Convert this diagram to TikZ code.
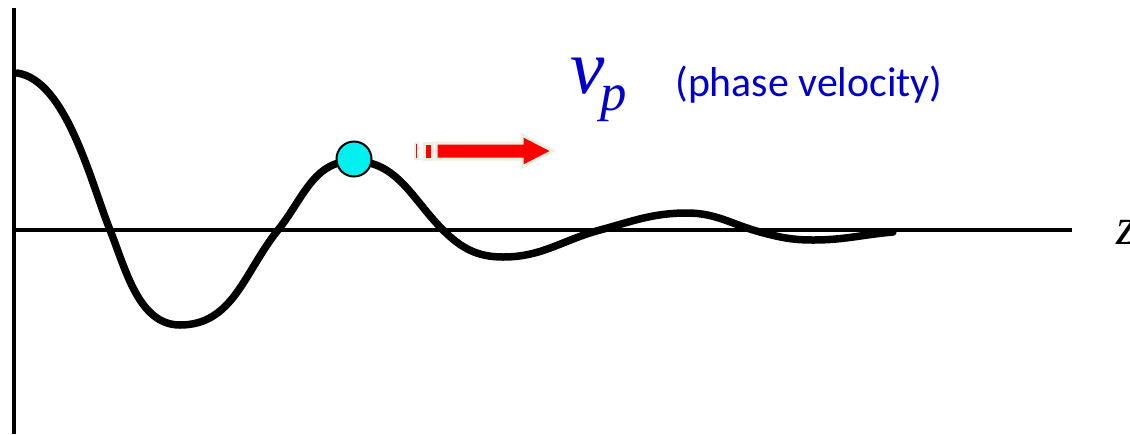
\documentclass[tikz,border=0pt]{standalone}
\usepackage{fontspec}
\setmainfont{Liberation Serif}
\newfontfamily\timesfont{Liberation Serif}
\newfontfamily\labelfont{Carlito}
\usetikzlibrary{positioning}
\definecolor{phaseblue}{RGB}{0,0,204}
\definecolor{dotcyan}{HTML}{00F0F0}
\definecolor{arrowred}{HTML}{FF0000}
\definecolor{rimgrey}{HTML}{EEEEE2}

\begin{document}
\begin{tikzpicture}[
  x=0.02cm,y=-0.02cm,
  axis/.style={line width=0.08cm},
  wave/.style={line width=0.15cm,line join=round,line cap=round},
  block/.style={fill=arrowred,draw=rimgrey,line width=0.06cm},
]
  \useasboundingbox (0,0) rectangle (1130,434);

  % axes
  \coordinate (top) at (14,8);
  \coordinate (bot) at (14,434);
  \coordinate (left) at (14,230);
  \coordinate (right) at (1072,230);
  \draw[axis] (top) -- (bot);
  \draw[axis] (left) -- (right);
  \node[font=\timesfont\fontsize{30}{30}\selectfont\itshape,anchor=west,inner sep=0pt] (zlab) at (1116,232) {z};

  % damped wave: extrema and zero crossings
  \coordinate (p0) at (17,73);
  \coordinate (c1) at (110,230);
  \coordinate (t1) at (180,325);
  \coordinate (c2) at (278,230);
  \coordinate (p1) at (353,161);
  \coordinate (c3) at (443,230);
  \coordinate (t2) at (503,257);
  \coordinate (c4) at (600,230);
  \coordinate (p2) at (687,213);
  \coordinate (c5) at (760,232);
  \coordinate (t3) at (813,240);
  \coordinate (e0) at (893,232);
  \draw[wave] (p0) to[out=-8,in=112,looseness=0.7] (c1) to[out=-68,in=180,looseness=0.9] (t1)
    to[out=0,in=231] (c2) to[out=51,in=180] (p1) to[out=0,in=135] (c3)
    to[out=-45,in=180] (t2) to[out=0,in=195] (c4) to[out=15,in=180] (p2)
    to[out=0,in=165] (c5) to[out=-15,in=180] (t3) to[out=0,in=185] (e0);

  % moving point
  \node[circle,draw,line width=0.04cm,fill=dotcyan,minimum size=0.7cm,inner sep=0pt] (dot) at (354,159) {};

  % arrow
  \filldraw[block]
    (436,143) -- (522,143) -- (522,135) -- (553,151) -- (522,167) -- (522,159) -- (436,159) -- cycle;
  \filldraw[block] (424,143) rectangle (432,159);
  \filldraw[block,line width=0.04cm] (415,143) rectangle (418,159);

  % labels
  \node[phaseblue,anchor=base west,inner sep=0pt,font=\timesfont\fontsize{44}{44}\selectfont\itshape] (vp) at (570,93)
    {v\kern-0.06em\raisebox{-0.23em}{\fontsize{30}{30}\selectfont p}};
  \node[phaseblue,anchor=base west,inner sep=0pt,font=\labelfont\fontsize{23.8}{24}\selectfont] (pv) at (675,96) {(phase velocity)};
\end{tikzpicture}
\end{document}
